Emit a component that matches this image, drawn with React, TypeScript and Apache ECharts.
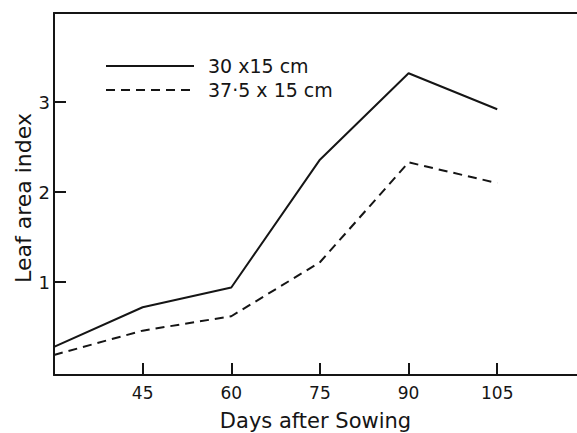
import React, { useEffect, useRef } from "react";
import * as echarts from "echarts";

const days = [30, 45, 60, 75, 90, 105];
const lai30x15 = [0.28, 0.72, 0.94, 2.36, 3.32, 2.92];
const lai375x15 = [0.19, 0.46, 0.62, 1.22, 2.33, 2.1];
const seriesNames = ["30 x15 cm", "37·5 x 15 cm"];
const xTickValues = [45, 60, 75, 90, 105];
const yTickValues = [1, 2, 3];
const xTitle = "Days after Sowing";
const yTitle = "Leaf area index";

const INK = "#151515";
const FONT = "DejaVu Sans";

export default function App() {
  const ref = useRef<HTMLDivElement>(null);
  useEffect(() => {
    if (!ref.current) return;
    const chart = echarts.init(ref.current, undefined, { renderer: "svg" });
    const pts = (vals: number[]) => days.map((d, i) => [d, vals[i]]);
    chart.setOption({
      animation: false,
      backgroundColor: "#ffffff",
      textStyle: { fontFamily: FONT, color: INK },
      grid: { left: 54, right: 0, top: 13, bottom: 58, containLabel: false, outerBoundsMode: "none" },
      legend: {
        orient: "vertical",
        left: 100,
        top: 51,
        itemWidth: 88,
        itemHeight: 20,
        itemGap: 4,
        itemStyle: { opacity: 0 },
        textStyle: { fontFamily: FONT, fontSize: 19, lineHeight: 20, color: INK, padding: [0, 0, 0, 9] },
        data: seriesNames,
      },
      xAxis: [
        {
          type: "value",
          min: 30,
          max: 118.5,
          position: "bottom",
          name: xTitle,
          nameLocation: "middle",
          nameGap: 35,
          nameMoveOverlap: false,
          nameTextStyle: { fontFamily: FONT, fontSize: 21, color: INK },
          axisLine: { show: true, onZero: false, lineStyle: { color: INK, width: 2 } },
          axisTick: { show: true, inside: true, length: 12, customValues: xTickValues, lineStyle: { color: INK, width: 2 } },
          axisLabel: { show: true, customValues: xTickValues, margin: 9, fontFamily: FONT, fontSize: 17, color: INK },
          splitLine: { show: false },
        },
        {
          type: "value",
          min: 30,
          max: 118.5,
          position: "top",
          axisLine: { show: true, onZero: false, lineStyle: { color: INK, width: 2 } },
          axisTick: { show: false },
          axisLabel: { show: false },
          splitLine: { show: false },
        },
      ],
      yAxis: {
        type: "value",
        min: -0.033,
        max: 3.99,
        name: yTitle,
        nameLocation: "middle",
        nameGap: 20,
        nameMoveOverlap: false,
        nameTextStyle: { fontFamily: FONT, fontSize: 22, color: INK, padding: [0, 8, 0, 0] },
        axisLine: { show: true, onZero: false, lineStyle: { color: INK, width: 2 } },
        axisTick: { show: true, inside: true, length: 12, customValues: yTickValues, lineStyle: { color: INK, width: 2 } },
        axisLabel: { show: true, customValues: yTickValues, margin: 4, fontFamily: FONT, fontSize: 18, color: INK },
        splitLine: { show: false },
      },
      series: [
        {
          name: seriesNames[0],
          type: "line",
          data: pts(lai30x15),
          symbol: "none",
          lineStyle: { color: INK, width: 2, type: "solid" },
          itemStyle: { color: INK },
        },
        {
          name: seriesNames[1],
          type: "line",
          data: pts(lai375x15),
          symbol: "none",
          lineStyle: { color: INK, width: 2, type: [9, 6] },
          itemStyle: { color: INK },
        },
      ],
    });
    return () => chart.dispose();
  }, []);
  return <div ref={ref} style={{ position: "absolute", left: 0, top: 0, width: 577, height: 433 }} />;
}
